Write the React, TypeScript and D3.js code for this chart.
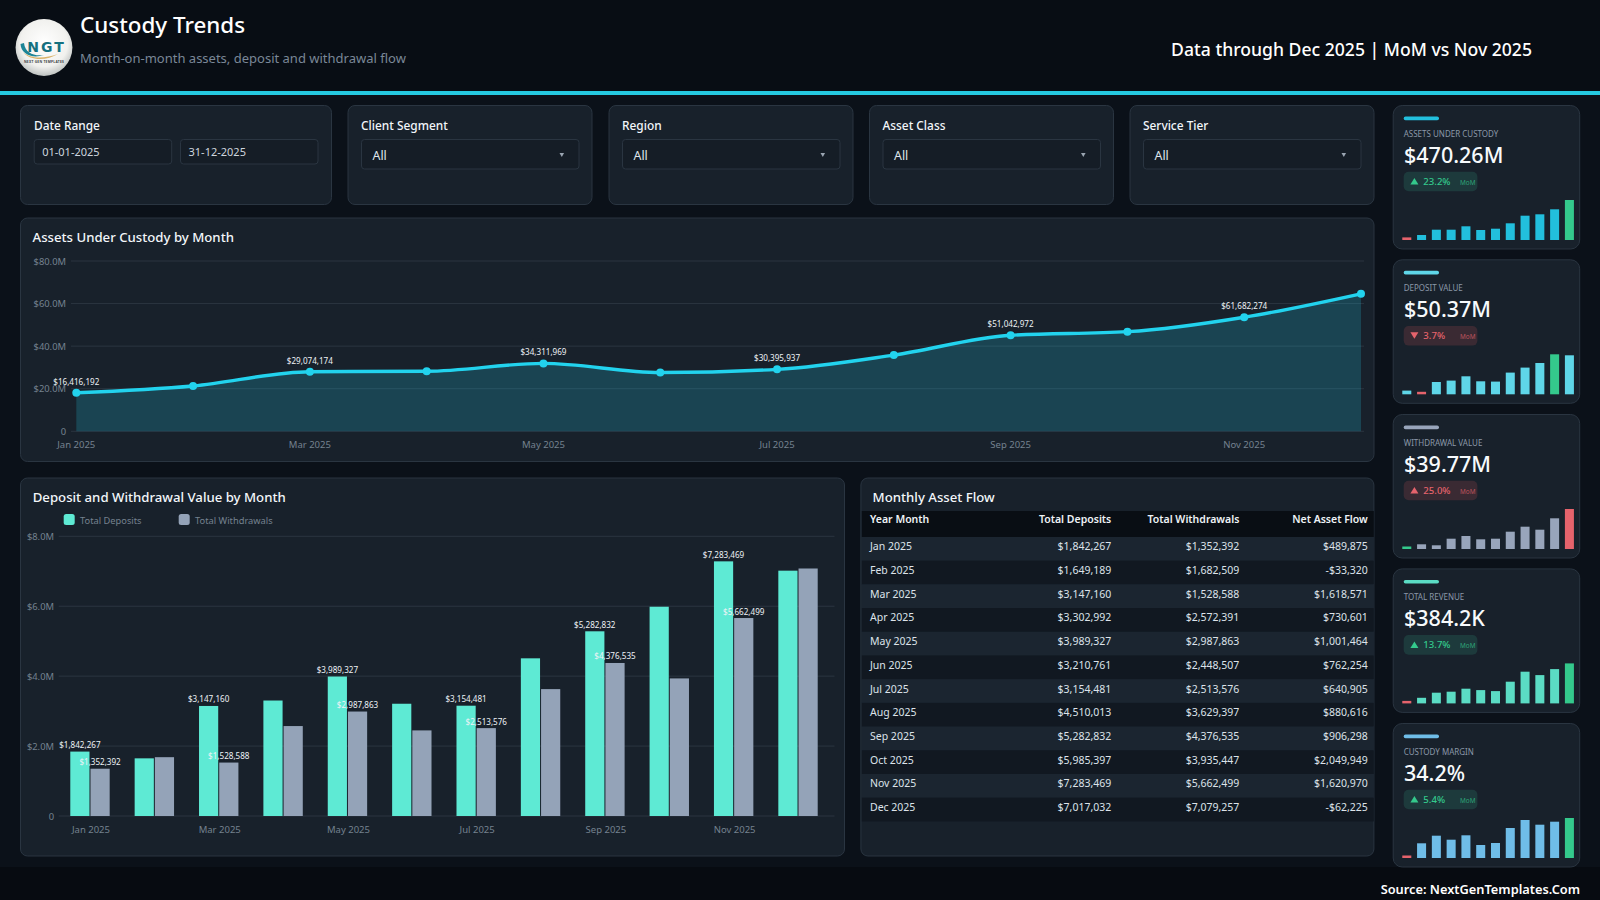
import React from "react";
import * as d3 from "d3";

const FONT = "'Noto Sans', 'Open Sans', sans-serif";

const months = ["Jan 2025", "Feb 2025", "Mar 2025", "Apr 2025", "May 2025", "Jun 2025", "Jul 2025", "Aug 2025", "Sep 2025", "Oct 2025", "Nov 2025", "Dec 2025"];
const aucValues = [18.1, 21.3, 28.0, 28.2, 31.9, 27.6, 29.1, 35.8, 45.1, 46.8, 53.6, 64.6];
const aucLabels = ["$16,416,192", "", "$29,074,174", "", "$34,311,969", "", "$30,395,937", "", "$51,042,972", "", "$61,682,274", ""];
const aucTicks = [0, 20, 40, 60, 80];
const flowTicks = [0, 2, 4, 6, 8];

const deposits = [1842267, 1649189, 3147160, 3302992, 3989327, 3210761, 3154481, 4510013, 5282832, 5985397, 7283469, 7017032];
const withdrawals = [1352392, 1682509, 1528588, 2572391, 2987863, 2448507, 2513576, 3629397, 4376535, 3935447, 5662499, 7079257];
const netFlow = ["$489,875", "-$33,320", "$1,618,571", "$730,601", "$1,001,464", "$762,254", "$640,905", "$880,616", "$906,298", "$2,049,949", "$1,620,970", "-$62,225"];
const labelledMonths = ["Jan 2025", "Mar 2025", "May 2025", "Jul 2025", "Sep 2025", "Nov 2025"];

const filters = ["Client Segment", "Region", "Asset Class", "Service Tier"];

const kpiTitles = ["ASSETS UNDER CUSTODY", "DEPOSIT VALUE", "WITHDRAWAL VALUE", "TOTAL REVENUE", "CUSTODY MARGIN"];
const kpiValues = ["$470.26M", "$50.37M", "$39.77M", "$384.2K", "34.2%"];
const kpiChanges = ["23.2%", "3.7%", "25.0%", "13.7%", "5.4%"];
const kpiArrowUp = [true, false, true, true, true];
const kpiGood = [true, false, false, true, true];
const kpiColors = ["#22bfdd", "#5fd6e8", "#98a5bb", "#5bdcc4", "#6fbde8"];
const kpiSpark = [
  [2.6, 5, 10.3, 10.3, 13.7, 10, 11.3, 16.7, 24.3, 25.7, 30.7, 40],
  [3.7, 2.5, 12.3, 13.7, 18, 13, 12.7, 21.7, 26.7, 31.3, 40, 39],
  [2.5, 4.7, 3.7, 10.3, 13, 9.7, 10.3, 17.3, 22.3, 19.3, 30.7, 40],
  [2.5, 5.6, 10.7, 11.7, 14.7, 13.3, 12.3, 21.7, 31.7, 28.3, 34.3, 40],
  [2.5, 14.7, 22.3, 18.3, 22.7, 13, 15, 30, 38, 33.3, 36.3, 40],
];
const kpiLow = [0, 1, 0, 0, 0];
const kpiHigh = [11, 10, 11, 11, 11];

const C = {
  page: "#0b1119",
  header: "#080d14",
  footer: "#070b11",
  card: "#18212b",
  border: "#2a3541",
  input: "#151d26",
  grid: "#2b3540",
  axis: "#75818f",
  text: "#f2f6fa",
  cyan: "#22d3ee",
  teal: "#5eead4",
  slate: "#94a3b8",
  red: "#e5636c",
  green: "#34c98c",
};

const fmtMoney = d3.format("$,");

function Card({ x, y, w, h, r = 7 }: { x: number; y: number; w: number; h: number; r?: number }) {
  return <rect x={x + 0.5} y={y + 0.5} width={w - 1} height={h - 1} rx={r} fill={C.card} stroke={C.border} />;
}

function Logo() {
  return (
    <g>
      <defs>
        <radialGradient id="logoFill" cx="50%" cy="42%" r="58%">
          <stop offset="0%" stopColor="#ffffff" />
          <stop offset="72%" stopColor="#f1f1ee" />
          <stop offset="100%" stopColor="#bfc3c2" />
        </radialGradient>
      </defs>
      <circle cx={44} cy={47.5} r={28.4} fill="url(#logoFill)" />
      <path d="M20.5 44 C21 54 32 59 44 55 C34 56.5 25 53 24 43 Z" fill="#1d8496" />
      <path d="M23 52 C32 60 46 58 58 54 C48 60 31 62 23 52 Z" fill="#d9b36a" />
      <text x={46.5} y={51.5} textAnchor="middle" fontSize={14} fontWeight={800} fill="#15707f" letterSpacing={2} fontFamily="'DejaVu Sans', sans-serif">NGT</text>
      <text x={44} y={62.5} textAnchor="middle" fontSize={3.3} fontWeight={700} letterSpacing={0.25} fill="#3a3f44">NEXT GEN TEMPLATES</text>
    </g>
  );
}

function Header() {
  return (
    <g>
      <rect width={1600} height={92} fill={C.header} />
      <rect y={91} width={1600} height={4} fill="#25c9e0" />
      <Logo />
      <text x={80} y={33} fontSize={22.4} fontWeight={500} fill="#fff">Custody Trends</text>
      <text x={80} y={63} fontSize={13} fill="#7a8797">Month-on-month assets, deposit and withdrawal flow</text>
      <text x={1532} y={55.5} textAnchor="end" fontSize={17.6} fontWeight={500} fill="#fff">Data through Dec 2025 | MoM vs Nov 2025</text>
    </g>
  );
}

function Filters() {
  const boxes = [
    { x: 347.5, w: 245 },
    { x: 608.5, w: 245 },
    { x: 869, w: 245 },
    { x: 1129.5, w: 245 },
  ];
  return (
    <g>
      <Card x={20} y={105} w={312} h={100} />
      <text x={34} y={130} fontSize={11.9} fontWeight={500} fill={C.text}>Date Range</text>
      {[{ x: 33.7, t: "01-01-2025" }, { x: 180, t: "31-12-2025" }].map(d => (
        <g key={d.t}>
          <rect x={d.x + 0.5} y={139.5} width={137.5} height={24.5} rx={3} fill={C.input} stroke={C.border} />
          <text x={d.x + 8.5} y={156} fontSize={11} fill="#cdd5de">{d.t}</text>
        </g>
      ))}
      {filters.map((f, i) => (
        <g key={f}>
          <Card x={boxes[i].x} y={105} w={boxes[i].w} h={100} />
          <text x={boxes[i].x + 13.5} y={130} fontSize={11.9} fontWeight={500} fill={C.text}>{f}</text>
          <rect x={boxes[i].x + 14} y={139.5} width={217.5} height={29.5} rx={3} fill={C.input} stroke={C.border} />
          <text x={boxes[i].x + 25} y={159.5} fontSize={12.4} fill="#dfe5eb">All</text>
          <path d="M0 0H4.6L2.3 4Z" transform={`translate(${boxes[i].x + 212},153)`} fill="#9aa5b1" />
        </g>
      ))}
    </g>
  );
}

function AreaPanel() {
  const x = d3.scalePoint<string>().domain(months).range([76.3, 1361]);
  const y = d3.scaleLinear().domain([0, 80]).range([431.3, 261]);
  const line = d3.line<number>().x((_, i) => x(months[i])!).y(d => y(d)).curve(d3.curveMonotoneX);
  const area = d3.area<number>().x((_, i) => x(months[i])!).y0(y(0)).y1(d => y(d)).curve(d3.curveMonotoneX);
  return (
    <g>
      <Card x={20} y={217.5} w={1354.5} h={244.5} />
      <text x={32.5} y={241.5} fontSize={13.2} fontWeight={500} fill={C.text}>Assets Under Custody by Month</text>
      {aucTicks.map(t => (
        <g key={t}>
          <line x1={71} x2={1364} y1={y(t)} y2={y(t)} stroke={C.grid} />
          <text x={66} y={y(t) + 3.5} textAnchor="end" fontSize={9.4} fill={C.axis}>{t === 0 ? "0" : `$${t.toFixed(1)}M`}</text>
        </g>
      ))}
      <path d={area(aucValues)!} fill="#22d3ee" fillOpacity={0.2} />
      <path d={line(aucValues)!} fill="none" stroke={C.cyan} strokeWidth={3.4} strokeLinecap="round" />
      {aucValues.map((v, i) => <circle key={i} cx={x(months[i])} cy={y(v)} r={4} fill={C.cyan} />)}
      {aucValues.map((v, i) => aucLabels[i] && (
        <text key={i} x={x(months[i])} y={y(v) - 8} textAnchor="middle" fontSize={8.1} fill="#eef2f6">{aucLabels[i]}</text>
      ))}
      {labelledMonths.map(m => (
        <text key={m} x={x(m)} y={447.5} textAnchor="middle" fontSize={9.5} fill={C.axis}>{m}</text>
      ))}
    </g>
  );
}

function BarsPanel() {
  const x0 = d3.scaleBand<string>().domain(months).range([57.8, 830.2]).paddingInner(0.388).paddingOuter(0.194);
  const x1 = d3.scaleBand<string>().domain(["dep", "wd"]).range([0, x0.bandwidth()]).paddingInner(0.05);
  const y = d3.scaleLinear().domain([0, 8000000]).range([816, 536.3]);
  return (
    <g>
      <Card x={20} y={477.5} w={825} h={379} />
      <text x={32.7} y={501.5} fontSize={13.2} fontWeight={500} fill={C.text}>Deposit and Withdrawal Value by Month</text>
      <rect x={63.7} y={514} width={11} height={11} rx={2.5} fill={C.teal} />
      <text x={80} y={523.5} fontSize={9.3} fill={C.axis}>Total Deposits</text>
      <rect x={178.7} y={514} width={11} height={11} rx={2.5} fill={C.slate} />
      <text x={195} y={523.5} fontSize={9.3} fill={C.axis}>Total Withdrawals</text>
      {flowTicks.map(t => (
        <g key={t}>
          <line x1={58.7} x2={834.5} y1={y(t * 1e6)} y2={y(t * 1e6)} stroke={C.grid} />
          <text x={54} y={y(t * 1e6) + 3.5} textAnchor="end" fontSize={9.4} fill={C.axis}>{t === 0 ? "0" : `$${t.toFixed(1)}M`}</text>
        </g>
      ))}
      {months.map((m, i) => (
        <g key={m}>
          <rect x={x0(m)! + x1("dep")!} y={y(deposits[i])} width={x1.bandwidth()} height={y(0) - y(deposits[i])} fill={C.teal} />
          <rect x={x0(m)! + x1("wd")!} y={y(withdrawals[i])} width={x1.bandwidth()} height={y(0) - y(withdrawals[i])} fill={C.slate} />
        </g>
      ))}
      {months.map(m => labelledMonths.includes(m) ? (
        <text key={m} x={x0(m)! + x0.bandwidth() / 2 + 1} y={833} textAnchor="middle" fontSize={9.5} fill={C.axis}>{m}</text>
      ) : null)}
      {months.map((m, i) => labelledMonths.includes(m) ? (
        <g key={m} fontSize={8.1} textAnchor="middle" fill="#eef2f6">
          <text x={x0(m)! + x1("dep")! + x1.bandwidth() / 2} y={y(deposits[i]) - 3.5}>{fmtMoney(deposits[i])}</text>
          <text x={x0(m)! + x1("wd")! + x1.bandwidth() / 2} y={y(withdrawals[i]) - 3.5}>{fmtMoney(withdrawals[i])}</text>
        </g>
      ) : null)}
    </g>
  );
}

function TablePanel() {
  const rowH = 23.7;
  const top = 537;
  const y = (i: number) => top + i * rowH;
  const cols = [1111.3, 1239.4, 1367.8];
  return (
    <g>
      <Card x={860.4} y={477.5} w={514} h={379} />
      <text x={872.6} y={501.5} fontSize={13.2} fontWeight={500} fill={C.text}>Monthly Asset Flow</text>
      <rect x={861.8} y={511} width={512} height={26} fill="#090e14" />
      <g fontSize={10.5} fontWeight={600} fill="#eef2f6">
        <text x={870} y={523}>Year Month</text>
        <text x={cols[0]} y={523} textAnchor="end">Total Deposits</text>
        <text x={cols[1]} y={523} textAnchor="end">Total Withdrawals</text>
        <text x={cols[2]} y={523} textAnchor="end">Net Asset Flow</text>
      </g>
      {months.map((m, i) => (
        <g key={m} fontSize={10.5} fill="#dde3ea">
          <rect x={861.8} y={y(i)} width={512} height={rowH} fill={i % 2 === 0 ? "#1b2530" : "#111821"} />
          <text x={870} y={y(i) + 13.3}>{m}</text>
          <text x={cols[0]} y={y(i) + 13.3} textAnchor="end">{fmtMoney(deposits[i])}</text>
          <text x={cols[1]} y={y(i) + 13.3} textAnchor="end">{fmtMoney(withdrawals[i])}</text>
          <text x={cols[2]} y={y(i) + 13.3} textAnchor="end">{netFlow[i]}</text>
        </g>
      ))}
    </g>
  );
}

function Kpi({ i, top }: { i: number; top: number }) {
  const x = d3.scaleBand<number>().domain(d3.range(12)).range([1399.4, 1576.8]).paddingInner(0.39).paddingOuter(0.195);
  const y = d3.scaleLinear().domain([0, 40]).range([top + 135, top + 95]);
  const good = kpiGood[i];
  const tone = good ? C.green : C.red;
  return (
    <g>
      <Card x={1392.7} y={top} w={187.5} h={144.5} r={9} />
      <rect x={1403.7} y={top + 11.5} width={35.3} height={3.7} rx={1.8} fill={kpiColors[i]} />
      <text x={1403.7} y={top + 32} fontSize={8} fill="#8b98a8">{kpiTitles[i]}</text>
      <text x={1404} y={top + 57.5} fontSize={21.5} fontWeight={500} fill="#f7fafc">{kpiValues[i]}</text>
      <rect x={1403.7} y={top + 66.7} width={73.7} height={19.6} rx={5} fill={good ? "#1d3a3c" : "#3a2a33"} />
      <path d={kpiArrowUp[i] ? "M0 6.5H8L4 0Z" : "M0 0H8L4 6.5Z"} transform={`translate(${1410.4},${top + 73})`} fill={tone} />
      <text x={1423.3} y={top + 80} fontSize={9.6} fontWeight={500} fill={tone}>{kpiChanges[i]}</text>
      <text x={1460} y={top + 80} fontSize={6.4} fill={tone} fillOpacity={0.75}>MoM</text>
      {kpiSpark[i].map((v, j) => (
        <rect key={j} x={x(j)} y={y(v)} width={x.bandwidth()} height={y(0) - y(v)}
          fill={j === kpiLow[i] ? (i === 2 ? C.green : C.red) : j === kpiHigh[i] ? (i === 2 ? C.red : C.green) : kpiColors[i]} />
      ))}
    </g>
  );
}

export default function App() {
  const tops = [105, 259.3, 414, 568.4, 723];
  return (
    <svg width={1600} height={900} viewBox="0 0 1600 900" fontFamily={FONT}
      style={{ position: "fixed", left: 0, top: 0, display: "block" }}>
      <rect width={1600} height={900} fill={C.page} />
      <rect y={867} width={1600} height={33} fill={C.footer} />
      <Header />
      <Filters />
      <AreaPanel />
      <BarsPanel />
      <TablePanel />
      {tops.map((t, i) => <Kpi key={i} i={i} top={t} />)}
      <text x={1580} y={894} textAnchor="end" fontSize={12.8} fontWeight={600} fill="#fff">Source: NextGenTemplates.Com</text>
    </svg>
  );
}
